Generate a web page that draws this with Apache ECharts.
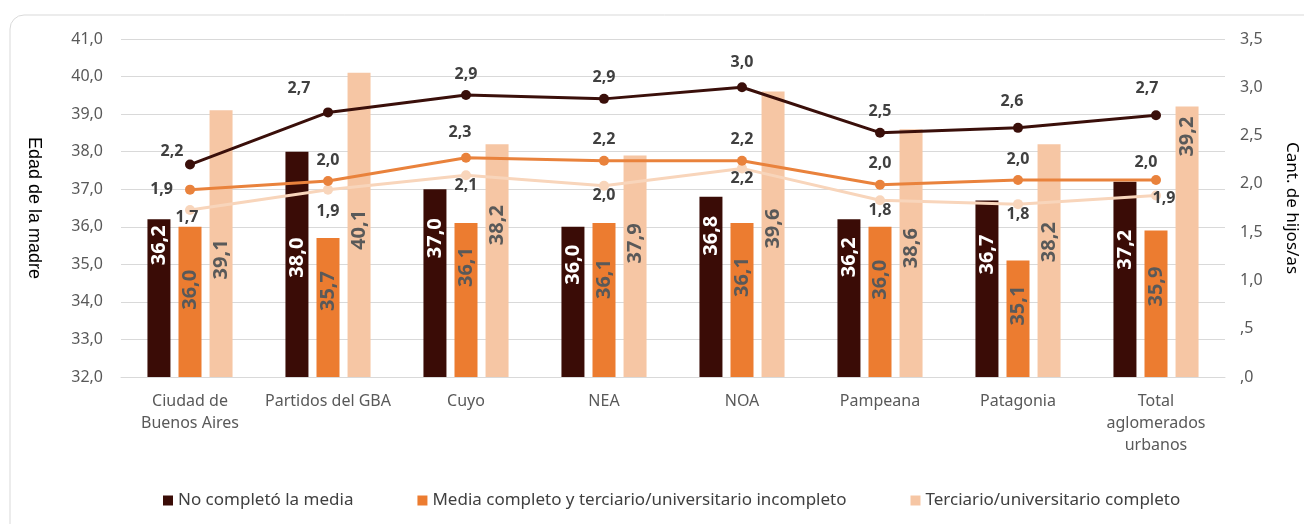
<!DOCTYPE html>
<html>
<head>
<meta charset="utf-8">
<script src="https://cdn.jsdelivr.net/npm/echarts@6/dist/echarts.min.js"></script>
<style>
  html, body { margin: 0; padding: 0; background: #fff; }
  #chart { width: 1304px; height: 524px; }
</style>
</head>
<body>
<div id="chart"></div>
<script>
const categories = ['Ciudad de\nBuenos Aires', 'Partidos del GBA', 'Cuyo', 'NEA', 'NOA', 'Pampeana', 'Patagonia', 'Total\naglomerados\nurbanos']
const seriesNames = ['No completó la media', 'Media completo y terciario/universitario incompleto', 'Terciario/universitario completo']

// edad de la madre (eje izquierdo)
const edadNoCompleto = [36.2, 38.0, 37.0, 36.0, 36.8, 36.2, 36.7, 37.2]
const edadMedia = [36.0, 35.7, 36.1, 36.1, 36.1, 36.0, 35.1, 35.9]
const edadTerciario = [39.1, 40.1, 38.2, 37.9, 39.6, 38.6, 38.2, 39.2]

// cantidad de hijos/as (eje derecho)
const hijosNoCompleto = [2.2, 2.74, 2.92, 2.88, 3.0, 2.53, 2.58, 2.71]
const hijosMedia = [1.94, 2.03, 2.27, 2.24, 2.24, 1.99, 2.04, 2.04]
const hijosTerciario = [1.73, 1.94, 2.09, 1.98, 2.16, 1.83, 1.79, 1.88]

const colors = ['#3a0c06', '#ec7c30', '#f6c6a4']
const lineColors = ['#3a0f0a', '#e9823c', '#f8d5bb']

// distancia (px) de la etiqueta de cada barra desde su extremo superior, como en el original
const barLabelDrop = [
  [6, 86, 29, 18, 19, 18, 34, 48],
  [43, 33, 24, 36, 34, 33, 25, 36],
  [129, 137, 61, 68, 117, 99, 78, 10]
]

// ajustes de etiquetas de las líneas (serie-punto)
const labelTweaks = {
  '0-0': { offset: [-18, 8] },
  '0-1': { offset: [-29, -3] },
  '0-4': { offset: [0, -4] },
  '0-6': { offset: [-6, -5] },
  '0-7': { offset: [-9, -6] },
  '1-0': { position: 'left', distance: 12, offset: [0, 0] },
  '1-2': { offset: [-6, -4] },
  '1-7': { offset: [-10, 3] },
  '2-0': { offset: [-3, 8] },
  '2-1': { offset: [0, 22] },
  '2-7': { offset: [8, 3] }
}

const fmt = (v, d) => v.toFixed(d).replace('.', ',')

const chart = echarts.init(document.getElementById('chart'))

const barLabelColors = ['#ffffff', '#595959', '#595959']
const bars = [edadNoCompleto, edadMedia, edadTerciario].map((data, i) => ({
  name: seriesNames[i],
  type: 'bar',
  yAxisIndex: 0,
  data: data.map((v, j) => ({ value: v, label: { position: ['50%', barLabelDrop[i][j]] } })),
  barWidth: 23,
  barGap: '35%',
  itemStyle: { color: colors[i] },
  label: {
    show: true,
    rotate: 90,
    align: 'right',
    verticalAlign: 'middle',
    color: barLabelColors[i],
    fontFamily: 'Noto Sans',
    fontSize: 20,
    fontWeight: 'bold',
    formatter: p => fmt(p.value, 1)
  },
  z: 2
}))

const lines = [hijosNoCompleto, hijosMedia, hijosTerciario].map((data, i) => ({
  name: 'hijos ' + i,
  type: 'line',
  yAxisIndex: 1,
  data: data.map((v, j) => {
    const t = labelTweaks[i + '-' + j]
    return t ? { value: v, label: t } : v
  }),
  symbol: 'circle',
  symbolSize: 10,
  lineStyle: { color: lineColors[i], width: 3 },
  itemStyle: { color: lineColors[i] },
  label: {
    show: true,
    position: i === 2 ? 'inside' : 'top',
    offset: i === 2 ? [0, 10] : [0, 0],
    distance: 8,
    color: '#404040',
    fontFamily: 'Noto Sans',
    fontSize: 16,
    fontWeight: 'bold',
    formatter: p => fmt(p.value, 1)
  },
  z: 5 - i
}))

chart.setOption({
  animation: false,
  textStyle: { fontFamily: 'Noto Sans' },
  graphic: [{
    type: 'rect',
    shape: { x: 10, y: 15, width: 1320, height: 540, r: 14 },
    style: { fill: 'none', stroke: '#d9d9d9', lineWidth: 1 },
    silent: true
  }],
  grid: { left: 121, right: 79, top: 39, bottom: 147, outerBoundsMode: 'none' },
  legend: {
    bottom: 10,
    left: 158,
    data: seriesNames,
    icon: 'rect',
    itemWidth: 10,
    itemHeight: 10,
    itemGap: 64,
    textStyle: { color: '#404040', fontSize: 17, fontFamily: 'Noto Sans' }
  },
  xAxis: {
    type: 'category',
    data: categories,
    axisLine: { lineStyle: { color: '#d9d9d9' } },
    axisTick: { show: false },
    axisLabel: {
      color: '#595959',
      fontSize: 16,
      lineHeight: 22,
      margin: 13,
      interval: 0
    }
  },
  yAxis: [{
    type: 'value',
    min: 32,
    max: 41,
    interval: 1,
    name: 'Edad de la madre',
    nameLocation: 'middle',
    nameRotate: -90,
    nameGap: 78,
    nameTextStyle: { color: '#000', fontSize: 18, fontFamily: 'Liberation Sans' },
    axisLine: { show: false },
    axisTick: { show: false },
    axisLabel: { color: '#595959', fontSize: 16, margin: 18, formatter: v => fmt(v, 1) },
    splitLine: { lineStyle: { color: '#d9d9d9' } }
  }, {
    type: 'value',
    min: 0,
    max: 3.5,
    interval: 0.5,
    name: 'Cant. de hijos/as',
    nameLocation: 'middle',
    nameRotate: -90,
    nameGap: 58,
    nameTextStyle: { color: '#000', fontSize: 17 },
    axisLine: { show: false },
    axisTick: { show: false },
    splitLine: { show: false },
    axisLabel: {
      color: '#595959',
      fontSize: 16,
      margin: 15,
      formatter: v => (v < 1 ? fmt(v, 1).replace(/^0/, '') : fmt(v, 1))
    }
  }],
  series: [...bars, ...lines]
})
</script>
</body>
</html>
